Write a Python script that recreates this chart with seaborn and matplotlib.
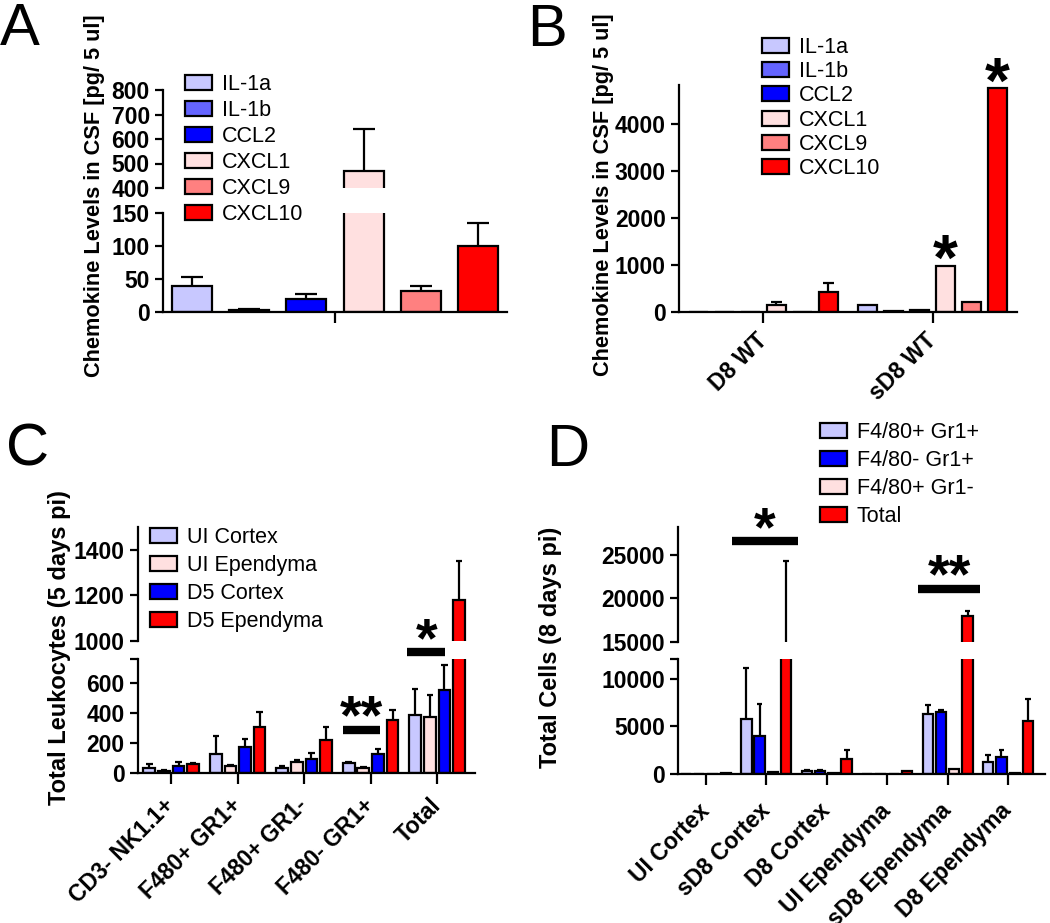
import matplotlib
matplotlib.use('Agg')
import pandas as pd
import matplotlib.pyplot as plt
import matplotlib.transforms as mtransforms
import seaborn as sns
from matplotlib.patches import Patch

# ---- data ----
chemokines = ['IL-1a', 'IL-1b', 'CCL2', 'CXCL1', 'CXCL9', 'CXCL10']
chemo_colors = ['#c8c8ff', '#6464ff', '#0000ff', '#ffe0e0', '#ff8080', '#ff0000']

a_mean = [40, 3, 20, 470, 32, 100]
a_sem = [13, 2, 7, 170, 8, 35]

b_groups = ['D8 WT', 'sD8 WT']
b_d8_mean = [5, 5, 10, 150, 5, 420]
b_d8_sem = [0, 0, 0, 60, 0, 190]
b_sd8_mean = [150, 20, 50, 975, 215, 4750]
b_sd8_sem = [0, 0, 0, 0, 0, 0]

c_groups = ['CD3- NK1.1+', 'F480+ GR1+', 'F480+ GR1-', 'F480- GR1+', 'Total']
c_series = ['UI Cortex', 'UI Ependyma', 'D5 Cortex', 'D5 Ependyma']
c_colors = ['#c8c8ff', '#ffe0e0', '#0000ff', '#ff0000']
c_ui_cortex = [33, 130, 35, 70, 387]
c_ui_cortex_sem = [27, 117, 10, 5, 173]
c_ui_epend = [12, 45, 73, 35, 373]
c_ui_epend_sem = [6, 7, 14, 5, 147]
c_d5_cortex = [47, 173, 93, 127, 553]
c_d5_cortex_sem = [26, 54, 40, 33, 167]
c_d5_epend = [60, 307, 220, 353, 1180]
c_d5_epend_sem = [10, 100, 87, 67, 170]

d_groups = ['UI Cortex', 'sD8 Cortex', 'D8 Cortex', 'UI Ependyma', 'sD8 Ependyma', 'D8 Ependyma']
d_series = ['F4/80+ Gr1+', 'F4/80- Gr1+', 'F4/80+ Gr1-', 'Total']
d_colors = ['#c8c8ff', '#0000ff', '#ffe0e0', '#ff0000']
d_f4_gr = [30, 5800, 300, 30, 6300, 1260]
d_f4_gr_sem = [0, 5350, 100, 0, 960, 740]
d_gr_only = [30, 4000, 300, 30, 6530, 1790]
d_gr_only_sem = [0, 3370, 100, 0, 170, 740]
d_f4_only = [30, 250, 60, 30, 500, 120]
d_f4_only_sem = [0, 0, 0, 0, 0, 0]
d_total = [150, 13500, 1580, 300, 18000, 5580]
d_total_sem = [0, 10800, 950, 0, 600, 2320]

# ---- style ----
sns.set_style('ticks')
plt.rcParams['font.family'] = ['Liberation Sans', 'DejaVu Sans']
plt.rcParams.update({'axes.linewidth': 1.6, 'axes.edgecolor': 'black',
                     'text.color': 'black', 'axes.labelcolor': 'black',
                     'xtick.color': 'black', 'ytick.color': 'black'})
TICK_FS = 16.5
LEG_FS = 15.5

W, H = 1050, 923
fig = plt.figure(figsize=(W / 100, H / 100), dpi=100)


def px_axes(x0, x1, ytop, ybot):
    ax = fig.add_axes([x0 / W, 1 - ybot / H, (x1 - x0) / W, (ybot - ytop) / H])
    ax.patch.set_visible(False)
    return ax


def long_df(groups, series, values, sems):
    rows = []
    for s, vals, errs in zip(series, values, sems):
        for g, v, e in zip(groups, vals, errs):
            rows.append({'group': g, 'series': s, 'value': v, 'err': e})
    return pd.DataFrame(rows)


def draw(ax, df, groups, series, colors, width, gap, cap=0.55):
    sns.barplot(data=df, x='group', y='value', hue='series', order=groups,
                hue_order=series, palette=dict(zip(series, colors)), saturation=1,
                width=width, gap=gap, edgecolor='black', linewidth=1.6,
                errorbar=None, legend=False, ax=ax)
    for s, cont in zip(series, ax.containers):
        for bar in cont:
            xc = bar.get_x() + bar.get_width() / 2
            g = groups[int(round(xc))]
            row = df[(df['group'] == g) & (df['series'] == s)].iloc[0]
            if row['err'] <= 0:
                continue
            top = row['value'] + row['err']
            half = bar.get_width() * cap / 2
            ax.vlines(xc, row['value'], top, color='black', lw=1.6, zorder=3)
            ax.hlines(top, xc - half, xc + half, color='black', lw=1.6, zorder=3)
    ax.set_xlabel('')
    ax.set_ylabel('')
    sns.despine(ax=ax)
    ax.tick_params(axis='both', width=1.6, length=6, labelsize=TICK_FS)


def bold_y(ax):
    for t in ax.get_yticklabels():
        t.set_fontweight('bold')


def upper_part(ax):
    ax.spines['bottom'].set_visible(False)
    ax.tick_params(axis='x', bottom=False, labelbottom=False)


def rot_labels(ax, labels, pad=13):
    ax.set_xticks(range(len(labels)))
    ax.set_xticklabels(labels, rotation=45, ha='right', va='center',
                       rotation_mode='anchor', fontweight='bold', fontsize=TICK_FS)
    ax.tick_params(axis='x', pad=pad, length=8)


def legend(labels, colors, x, y, spacing):
    hs = [Patch(facecolor=c, edgecolor='black', linewidth=1.6) for c in colors]
    fig.legend(hs, labels, loc='upper left', bbox_to_anchor=(x / W, 1 - y / H),
               frameon=False, fontsize=LEG_FS, handlelength=1.25, handleheight=0.7,
               handletextpad=0.45, labelspacing=spacing, borderpad=0, borderaxespad=0)


def stars(ax, x, y, label, fs=40, dy=13):
    tr = mtransforms.offset_copy(ax.transData, fig=fig, x=0, y=dy - 0.57 * fs, units='points')
    ax.text(x, y, label, transform=tr, ha='center', va='baseline', fontsize=fs,
            fontweight='bold', clip_on=False)


def sig_bar(ax, x0, x1, y, label):
    ax.plot([x0, x1], [y, y], color='black', lw=6, solid_capstyle='butt', clip_on=False)
    stars(ax, (x0 + x1) / 2, y, label, dy=20)


# ---- panel A (broken axis) ----
df_a = long_df([''], chemokines, [[v] for v in a_mean], [[e] for e in a_sem])
ax_a_lo = px_axes(163, 507, 213, 312)
ax_a_hi = px_axes(163, 507, 90, 188)
for ax in (ax_a_lo, ax_a_hi):
    draw(ax, df_a, [''], chemokines, chemo_colors, 0.8, 0.3)
    ax.set_xlim(-0.4, 0.4)
ax_a_lo.set_ylim(0, 150)
ax_a_lo.set_yticks([0, 50, 100, 150])
ax_a_lo.set_xticklabels([''])
ax_a_lo.tick_params(axis='x', length=8)
ax_a_hi.set_ylim(400, 800)
ax_a_hi.set_yticks([400, 500, 600, 700, 800])
upper_part(ax_a_hi)
bold_y(ax_a_lo)
bold_y(ax_a_hi)

# ---- panel B ----
df_b = long_df(b_groups, chemokines,
               [list(p) for p in zip(b_d8_mean, b_sd8_mean)],
               [list(p) for p in zip(b_d8_sem, b_sd8_sem)])
ax_b = px_axes(679, 1017, 85, 312)
draw(ax_b, df_b, b_groups, chemokines, chemo_colors, 0.92, 0.26)
ax_b.set_xlim(-0.5, 1.5)
ax_b.set_ylim(0, 4820)
ax_b.set_yticks([0, 1000, 2000, 3000, 4000])
bold_y(ax_b)
rot_labels(ax_b, b_groups, pad=10)
for s in ('CXCL1', 'CXCL10'):
    bar = ax_b.containers[chemokines.index(s)][1]
    stars(ax_b, bar.get_x() + bar.get_width() / 2, bar.get_height(), '*', fs=46, dy=16)

# ---- panel C (broken axis) ----
df_c = long_df(c_groups, c_series,
               [c_ui_cortex, c_ui_epend, c_d5_cortex, c_d5_epend],
               [c_ui_cortex_sem, c_ui_epend_sem, c_d5_cortex_sem, c_d5_epend_sem])
ax_c_lo = px_axes(138, 475, 659, 773)
ax_c_hi = px_axes(138, 475, 527, 641)
for ax in (ax_c_lo, ax_c_hi):
    draw(ax, df_c, c_groups, c_series, c_colors, 0.88, 0.2)
    ax.set_xlim(-0.5, 4.57)
ax_c_lo.set_ylim(0, 760)
ax_c_lo.set_yticks([0, 200, 400, 600, 760])
ax_c_lo.set_yticklabels(['0', '200', '400', '600', ''], fontweight='bold')
ax_c_hi.set_ylim(1000, 1500)
ax_c_hi.set_yticks([1000, 1200, 1400])
bold_y(ax_c_hi)
upper_part(ax_c_hi)
rot_labels(ax_c_lo, c_groups)
sig_bar(ax_c_lo, 3 - 0.42, 3 + 0.14, 290, '**')
sig_bar(ax_c_lo, 4 - 0.45, 4 + 0.12, 807, '*')

# ---- panel D (broken axis) ----
df_d = long_df(d_groups, d_series,
               [d_f4_gr, d_gr_only, d_f4_only, d_total],
               [d_f4_gr_sem, d_gr_only_sem, d_f4_only_sem, d_total_sem])
ax_d_lo = px_axes(678, 1045, 659, 774)
ax_d_hi = px_axes(678, 1045, 527, 642)
for ax in (ax_d_lo, ax_d_hi):
    draw(ax, df_d, d_groups, d_series, d_colors, 0.88, 0.22)
    ax.set_xlim(-0.46, 5.61)
ax_d_lo.set_ylim(0, 12100)
ax_d_lo.set_yticks([0, 5000, 10000, 12100])
ax_d_lo.set_yticklabels(['0', '5000', '10000', ''], fontweight='bold')
ax_d_hi.set_ylim(15000, 28200)
ax_d_hi.set_yticks([15000, 20000, 25000])
bold_y(ax_d_hi)
upper_part(ax_d_hi)
rot_labels(ax_d_lo, d_groups, pad=16)
sig_bar(ax_d_hi, 1 - 0.57, 1 + 0.52, 26600, '*')
sig_bar(ax_d_hi, 4 - 0.49, 4 + 0.54, 21100, '**')

# ---- legends ----
legend(chemokines, chemo_colors, 185, 74, 0.23)
legend(chemokines, chemo_colors, 762, 37, 0.15)
legend(c_series, c_colors, 150, 527, 0.33)
legend(d_series, d_colors, 820, 422, 0.33)

# ---- y labels ----
fig.text(95 / W, 1 - 196 / H, 'Chemokine Levels in CSF [pg/ 5 ul]', rotation=90,
         ha='center', va='center', fontsize=15.7, fontweight='bold')
fig.text(603 / W, 1 - 195 / H, 'Chemokine Levels in CSF [pg/ 5 ul]', rotation=90,
         ha='center', va='center', fontsize=15.7, fontweight='bold')
fig.text(60 / W, 1 - 648 / H, 'Total Leukocytes (5 days pi)', rotation=90,
         ha='center', va='center', fontsize=17, fontweight='bold')
fig.text(551 / W, 1 - 647 / H, 'Total Cells (8 days pi)', rotation=90,
         ha='center', va='center', fontsize=17, fontweight='bold')

# ---- panel letters ----
for letter, x, y in [('A', 0, 45), ('B', 527, 46), ('C', 6, 466), ('D', 546, 466)]:
    fig.text(x / W, 1 - y / H, letter, fontsize=43, ha='left', va='baseline')

fig.savefig('out.png', dpi=100)
